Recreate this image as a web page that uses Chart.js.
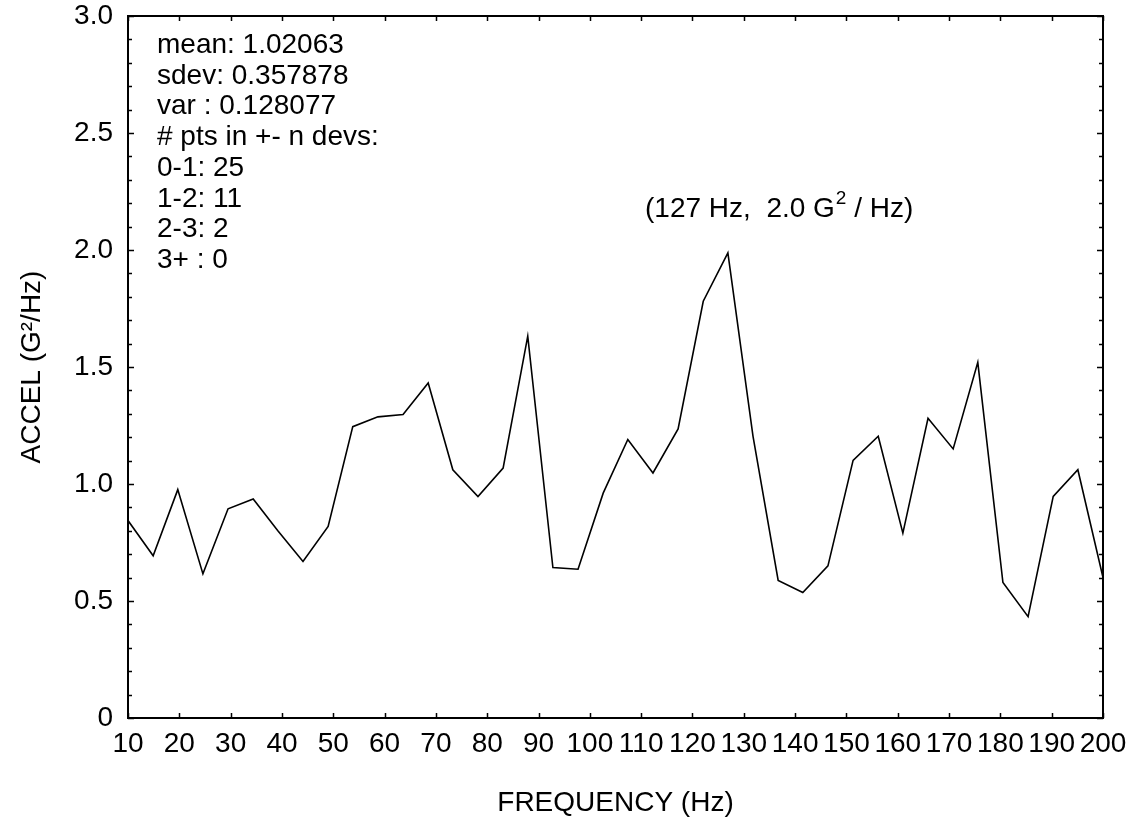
<!DOCTYPE html>
<html>
<head>
<meta charset="utf-8">
<title>ACCEL vs FREQUENCY</title>
<script src="https://cdn.jsdelivr.net/npm/chart.js@4.4.0/dist/chart.umd.min.js"></script>
<style>
    html, body { margin: 0; padding: 0; background: #fff; }
    #wrap { width: 1136px; height: 820px; }
</style>
</head>
<body>
<div id="wrap"><canvas id="psdChart" width="1136" height="820"></canvas></div>
<script>
// Data (Hz, G^2/Hz)
const frequencies = [
    10.0, 14.9, 19.7, 24.6, 29.5, 34.4, 39.2, 44.1, 49.0, 53.8,
    58.7, 63.6, 68.5, 73.3, 78.2, 83.1, 87.9, 92.8, 97.7, 102.6,
    107.4, 112.3, 117.2, 122.1, 126.9, 131.8, 136.7, 141.5, 146.4, 151.3,
    156.2, 161.0, 165.9, 170.8, 175.6, 180.5, 185.4, 190.3, 195.1, 200.0
];
const accel = [
    0.844, 0.693, 0.976, 0.616, 0.894, 0.936, 0.800, 0.669, 0.819, 1.245,
    1.287, 1.297, 1.432, 1.061, 0.946, 1.068, 1.632, 0.643, 0.636, 0.961,
    1.190, 1.047, 1.235, 1.781, 1.988, 1.204, 0.588, 0.536, 0.650, 1.101,
    1.204, 0.790, 1.281, 1.150, 1.520, 0.579, 0.433, 0.947, 1.061, 0.600
];

// Axis ticks
const xTickValues = [10, 20, 30, 40, 50, 60, 70, 80, 90, 100, 110, 120, 130, 140, 150, 160, 170, 180, 190, 200];
const yTickValues = [0, 0.5, 1.0, 1.5, 2.0, 2.5, 3.0];
const yTickLabels = ['0', '0.5', '1.0', '1.5', '2.0', '2.5', '3.0'];
const yMinorStep = 0.1;

// Text on the plot
const statLines = [
    'mean: 1.02063',
    'sdev: 0.357878',
    'var : 0.128077',
    '# pts in +- n devs:',
    '0-1: 25',
    '1-2: 11',
    '2-3: 2',
    '3+ : 0'
];
const peakTextBefore = '(127 Hz,  2.0 G';
const peakTextSup = '2';
const peakTextAfter = ' / Hz)';

const FONT = '"Liberation Sans", Arial, Helvetica, sans-serif';

// frame + inward tick marks on all four sides
const framePlugin = {
    id: 'frame',
    afterDraw(chart) {
        const { ctx, chartArea: a, scales: { x, y } } = chart;
        ctx.save();
        ctx.strokeStyle = '#000';
        ctx.lineWidth = 1.5;
        ctx.beginPath();
        xTickValues.forEach(v => {
            const px = Math.round(x.getPixelForValue(v)) + 0.5;
            ctx.moveTo(px, a.bottom); ctx.lineTo(px, a.bottom - 5);
            ctx.moveTo(px, a.top); ctx.lineTo(px, a.top + 5);
        });
        const n = Math.round((y.max - y.min) / yMinorStep);
        for (let i = 0; i <= n; i++) {
            const py = Math.round(y.getPixelForValue(y.min + i * yMinorStep)) + 0.5;
            const len = i % 5 === 0 ? 6 : 4;
            ctx.moveTo(a.left, py); ctx.lineTo(a.left + len, py);
            ctx.moveTo(a.right, py); ctx.lineTo(a.right - len, py);
        }
        ctx.stroke();
        ctx.lineWidth = 2;
        ctx.strokeRect(a.left, a.top, a.right - a.left, a.bottom - a.top);
        ctx.restore();
    }
};

// stats block and peak label
const notesPlugin = {
    id: 'notes',
    afterDraw(chart) {
        const { ctx, chartArea: a } = chart;
        ctx.save();
        ctx.fillStyle = '#000';
        ctx.textAlign = 'left';
        ctx.textBaseline = 'alphabetic';
        ctx.font = '28px ' + FONT;
        statLines.forEach((t, i) => {
            ctx.fillText(t, a.left + 29, a.top + 37 + i * 30.7);
        });

        let tx = a.left + 517;
        const base = a.top + 201;
        ctx.fillText(peakTextBefore, tx, base);
        tx += ctx.measureText(peakTextBefore).width;
        ctx.font = '19px ' + FONT;
        ctx.fillText(peakTextSup, tx + 1, base - 13);
        tx += ctx.measureText(peakTextSup).width + 1;
        ctx.font = '28px ' + FONT;
        ctx.fillText(peakTextAfter, tx, base);
        ctx.restore();
    }
};

const ctx = document.getElementById('psdChart');

new Chart(ctx, {
    type: 'line',
    data: {
        datasets: [{
            data: frequencies.map((f, i) => ({ x: f, y: accel[i] })),
            borderColor: '#000',
            borderWidth: 1.6,
            pointRadius: 0,
            tension: 0,
            fill: false
        }]
    },
    options: {
        responsive: false,
        animation: false,
        layout: { padding: { left: 0, top: 16, right: 33, bottom: 0 } },
        plugins: {
            legend: { display: false },
            tooltip: { enabled: false }
        },
        scales: {
            x: {
                type: 'linear',
                min: 10,
                max: 200,
                afterBuildTicks: s => { s.ticks = xTickValues.map(v => ({ value: v })); },
                afterFit: s => { s.height = 102; s.paddingLeft = 0; s.paddingRight = 0; },
                ticks: {
                    color: '#000',
                    font: { family: FONT, size: 28 },
                    padding: 9,
                    maxRotation: 0,
                    autoSkip: false
                },
                grid: { display: false, drawTicks: false },
                border: { display: false },
                title: {
                    display: true,
                    text: 'FREQUENCY (Hz)',
                    color: '#000',
                    font: { family: FONT, size: 28 },
                    padding: { top: 3, bottom: 0 }
                }
            },
            y: {
                type: 'linear',
                min: 0,
                max: 3,
                afterBuildTicks: s => { s.ticks = yTickValues.map(v => ({ value: v })); },
                afterFit: s => { s.width = 128; s.paddingTop = 0; s.paddingBottom = 0; },
                ticks: {
                    color: '#000',
                    font: { family: FONT, size: 28 },
                    padding: 15,
                    autoSkip: false,
                    callback: v => yTickLabels[yTickValues.indexOf(v)]
                },
                grid: { display: false, drawTicks: false },
                border: { display: false },
                title: {
                    display: true,
                    text: 'ACCEL (G²/Hz)',
                    color: '#000',
                    font: { family: FONT, size: 28 },
                    padding: { top: 15, bottom: 0 }
                }
            }
        }
    },
    plugins: [framePlugin, notesPlugin]
});
</script>
</body>
</html>
